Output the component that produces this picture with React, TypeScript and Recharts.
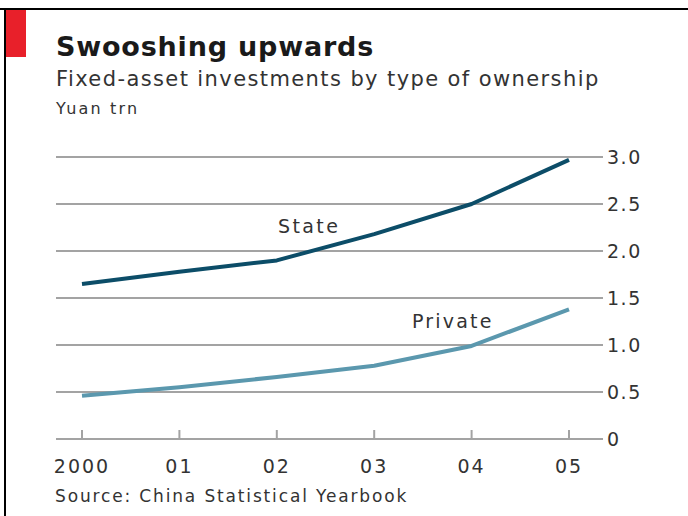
import React from "react";
import { LineChart, Line, XAxis, YAxis, CartesianGrid } from "recharts";

const years = ["2000", "01", "02", "03", "04", "05"];
const stateValues = [1.65, 1.78, 1.9, 2.18, 2.5, 2.97];
const privateValues = [0.46, 0.55, 0.66, 0.78, 0.99, 1.38];
const yTicks = [0, 0.5, 1.0, 1.5, 2.0, 2.5, 3.0];

const data = years.map((y, i) => ({ year: y, state: stateValues[i], private: privateValues[i] }));

const FONT = "'DejaVu Sans', sans-serif";
const GRID = "#a3a3a3";
const TEXT = "#333333";

const XTick = (props: any) => {
  const { x, y, payload } = props;
  return (
    <g>
      <line x1={x} x2={x} y1={y - 9} y2={y} stroke={GRID} strokeWidth={2} />
      <text x={x} y={y + 34} textAnchor="middle" fill={TEXT} fontSize={19} fontFamily={FONT} letterSpacing={2}>
        {payload.value}
      </text>
    </g>
  );
};

const YTick = (props: any) => {
  const { x, y, payload } = props;
  const v = payload.value;
  return (
    <text x={x - 4} y={y + 7} textAnchor="start" fill={TEXT} fontSize={19} fontFamily={FONT} letterSpacing={1.5}>
      {v === 0 ? "0" : v.toFixed(1)}
    </text>
  );
};

export default function App() {
  return (
    <div style={{ position: "relative", width: 688, height: 516, background: "#fff", fontFamily: FONT }}>
      <style>{"body{margin:0;background:#fff}"}</style>
      {/* frame */}
      <div style={{ position: "absolute", left: 0, top: 8, width: 688, height: 2, background: "#000" }} />
      <div style={{ position: "absolute", left: 4, top: 8, width: 2, height: 508, background: "#000" }} />
      <div style={{ position: "absolute", left: 6, top: 10, width: 20, height: 47, background: "#e8202a" }} />
      <div style={{ position: "absolute", left: 56, top: 31, fontSize: 27, letterSpacing: 0.8, fontWeight: 700, color: "#1a1a1a", whiteSpace: "nowrap" }}>
        Swooshing upwards
      </div>
      <div style={{ position: "absolute", left: 56, top: 67, fontSize: 21, letterSpacing: 1.4, color: "#333", whiteSpace: "nowrap" }}>
        Fixed-asset investments by type of ownership
      </div>
      <div style={{ position: "absolute", left: 56, top: 99, fontSize: 16, letterSpacing: 2.2, color: "#333", whiteSpace: "nowrap" }}>
        Yuan trn
      </div>
      <div style={{ position: "absolute", left: 55, top: 486, fontSize: 17, letterSpacing: 1.85, color: "#333", whiteSpace: "nowrap" }}>
        Source: China Statistical Yearbook
      </div>
      <div style={{ position: "absolute", left: 278, top: 215, fontSize: 19, letterSpacing: 2.4, color: "#333", whiteSpace: "nowrap" }}>
        State
      </div>
      <div style={{ position: "absolute", left: 412, top: 310, fontSize: 19, letterSpacing: 2.2, color: "#333", whiteSpace: "nowrap" }}>
        Private
      </div>
      <div style={{ position: "absolute", left: 0, top: 0 }}>
        <LineChart width={688} height={516} data={data} margin={{ top: 157, bottom: 37, left: 56, right: 25 }}>
          <CartesianGrid vertical={false} stroke={GRID} strokeWidth={2} />
          <XAxis
            dataKey="year"
            axisLine={false}
            tickLine={false}
            tickSize={0}
            tickMargin={0}
            height={40}
            padding={{ left: 26, right: 34 }}
            tick={<XTick />}
            interval={0}
          />
          <YAxis
            orientation="right"
            domain={[0, 3]}
            ticks={yTicks}
            axisLine={false}
            tickLine={false}
            width={60}
            tick={<YTick />}
          />
          <Line type="linear" dataKey="state" stroke="#0c4d68" strokeWidth={4} dot={false} isAnimationActive={false} strokeLinejoin="round" />
          <Line type="linear" dataKey="private" stroke="#5b98ae" strokeWidth={4} dot={false} isAnimationActive={false} strokeLinejoin="round" />
        </LineChart>
      </div>
    </div>
  );
}
